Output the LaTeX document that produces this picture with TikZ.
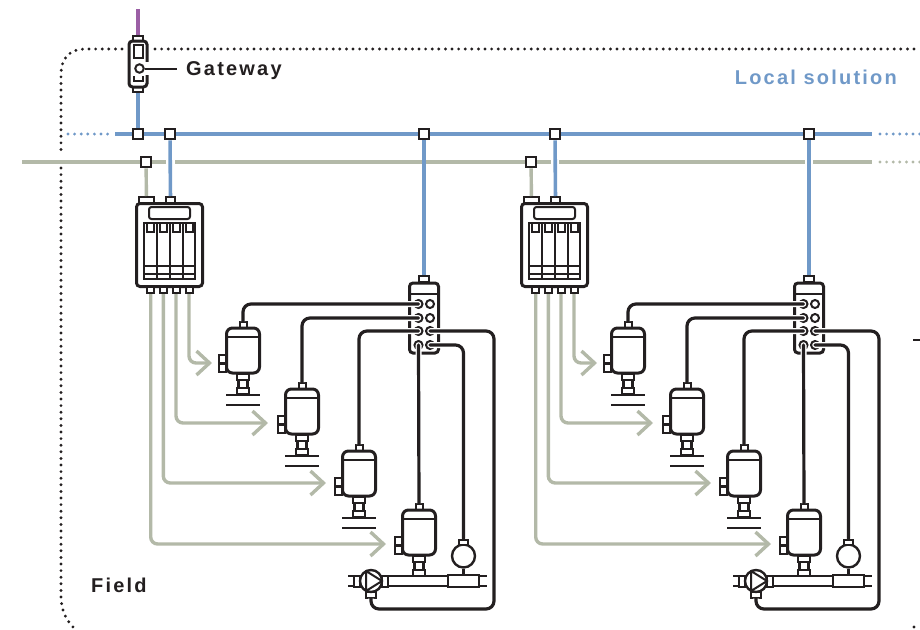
\documentclass[tikz,border=0pt]{standalone}
\usepackage{fontspec}
\setmainfont[LetterSpace=11]{Liberation Sans}
\usetikzlibrary{arrows.meta}
\definecolor{busblue}{RGB}{112,153,200}
\definecolor{busgray}{RGB}{179,185,168}
\definecolor{gatepurple}{RGB}{155,95,165}
\definecolor{ink}{RGB}{35,31,32}

\begin{document}
\begin{tikzpicture}[x=1pt,y=-1pt,>={Straight Barb[length=13pt,width=24pt]},
    bluebus/.style={busblue,line width=3.6pt},
    graybus/.style={busgray,line width=3.4pt},
    bluedots/.style={busblue,line width=3.2pt,line cap=round,dash pattern=on 0pt off 6.6pt},
    graydots/.style={busgray,line width=3.2pt,line cap=round,dash pattern=on 0pt off 6.6pt},
    fielddots/.style={ink,line width=3.2pt,line cap=round,dash pattern=on 0pt off 6.6pt},
    cable/.style={ink,line width=3.2pt,line cap=round,rounded corners=8pt,preaction={draw=white,line width=6pt}},
    thin line/.style={ink,line width=2pt},
    bx/.style={draw=ink,line width=3pt,fill=white,rounded corners=3.5pt,inner sep=0pt,minimum width=#1},
    bx/.default=10pt,
    cap/.style={draw=ink,line width=2pt,fill=white,inner sep=0pt,minimum width=#1,minimum height=6pt},
    cap/.default=9pt,
    junction/.style={draw=ink,line width=2.6pt,fill=white,inner sep=0pt,minimum size=10pt},
    port/.style={circle,draw=ink,line width=2pt,fill=white,inner sep=0pt,minimum size=8pt},
    lbl/.style={font=\bfseries\fontsize{20}{22}\selectfont,text=ink,inner sep=0pt},
    valve/.pic={
      \node[cap=7pt,minimum height=6pt] (-top) at (0,-3) {};
      \node[bx=33pt,minimum height=45pt,rounded corners=6pt] (-body) at (0,22.5) {};
      \draw[thin line] (-17,8.5) -- (17,8.5);
      \node[cap=7pt,minimum height=8pt] at (-20.5,30.5) {};
      \node[cap=7pt,minimum height=8pt] at (-20.5,39.5) {};
      \draw[ink,line width=2.6pt,fill=white] (-6,46) rectangle (6,52);
      \draw[ink,line width=2.6pt,fill=white] (-4.5,52) rectangle (4.5,60);
      \draw[ink,line width=2.6pt,fill=white] (-6,60) rectangle (6,66);
    },
    lines/.pic={
      \draw[thin line] (-17,66.5) -- (17,66.5) (-17,76.5) -- (17,76.5);
    }]
  \useasboundingbox (0,0) rectangle (920,629);
  % field border
  \draw[fielddots] (122,49) -- (85,49) .. controls (70,49) and (61,58) .. (61,74) -- (61,154);
  \draw[fielddots] (61,168) -- (61,596) .. controls (61,610) and (66,620) .. (74,628);
  \draw[fielddots] (155,49) -- (920,49);
  \draw[fielddots] (914,627) -- (919,624);
  \draw[ink,line width=1.8pt] (913,340) -- (920,340);
  % buses
  \draw[bluedots] (68,134) -- (108,134);
  \draw[bluebus] (115,134) -- (872,134);
  \draw[bluedots] (880,134) -- (920,134);
  \draw[graybus] (22,162) -- (166,162) (175,162) -- (551,162) (559,162) -- (805,162) (813,162) -- (872,162);
  \draw[graydots] (880,162) -- (920,162);
  % gateway
  \node[cap=10pt,minimum height=5pt] (gwin) at (138,38) {};
  \node[cap=10pt,minimum height=5pt] (gwout) at (138,89) {};
  \node[bx=18pt,minimum height=46pt] (gw) at (138,64) {};
  \fill[white] (145,62) rectangle (150,75);
  \draw[thin line] (133.5,45) rectangle (142.5,58) (133.5,76) -- (133.5,80.5) -- (142.5,80.5) -- (142.5,76);
  \coordinate (gwtop) at (138,9);
  \node[junction] (j0) at (138,134) {};
  \draw[gatepurple,line width=3.4pt] (gwtop) -- (gwin);
  \draw[bluebus] (gwout) -- (j0);
  \node[lbl,anchor=base west] (gwlabel) at (186,75) {Gateway};
  \node[port,minimum size=8.5pt] (gwport) at (139.5,68.5) {};
  \draw[thin line] (gwport) -- (177,68.5);
  \node[lbl,text=busblue,anchor=base east] (local) at (897,84) {Local solution};
  \node[lbl,anchor=base west] (field) at (91,592) {Field};
  % two identical field groups
  \foreach \g/\dx in {a/0,b/385} {
    \begin{scope}[xshift=\dx pt]
      \node[junction] (\g-jb) at (170,134) {};
      \node[junction] (\g-jg) at (146,162) {};
      \node[junction] (\g-jio) at (424,134) {};
      % remote i/o cabinet
      \node[cap=15pt] (\g-capg) at (146.5,200) {};
      \node[cap=9pt] (\g-capb) at (170.5,200) {};
      \node[bx=66pt,minimum height=83pt] (\g-rio) at (169.5,245) {};
      \node[draw=ink,line width=2pt,rounded corners=2.5pt,minimum width=41pt,minimum height=12pt,inner sep=0pt] (\g-disp) at (169.5,213) {};
      \draw[thin line] (144,223) rectangle (195,279);
      \foreach \x in {157,169.5,182.5} \draw[thin line] (\x,223) -- (\x,279);
      \draw[thin line] (144,265.5) -- (195,265.5) (144,274) -- (195,274);
      \foreach \x in {150.7,163.3,176,189} \draw[thin line] (\x-3.5,223) -- (\x-3.5,232) -- (\x+3.5,232) -- (\x+3.5,223);
      \foreach \i/\x in {1/189,2/176,3/163.3,4/150.7} \node[cap=7pt] (\g-out\i) at (\x,290) {};
      \draw[graybus] (\g-jg) -- (\g-capg);
      \draw[bluebus] (\g-jb) -- (\g-capb);
      % io block
      \node[cap=10pt] (\g-capio) at (424,279) {};
      \node[bx=29pt,minimum height=70pt] (\g-io) at (424,318) {};
      \draw[thin line] (409,294) -- (439,294);
      \draw[bluebus] (\g-jio) -- (\g-capio);
      \foreach \i/\y in {1/304,2/318,3/331,4/345} {
        \node[port] (\g-l\i) at (418.5,\y) {};
        \node[port] (\g-r\i) at (430,\y) {};
      }
      % valves
      \pic (\g-v1) at (243,328) {valve};
      \pic (\g-v2) at (302,389) {valve};
      \pic (\g-v3) at (359,451) {valve};
      \pic (\g-v4) at (419,510) {valve};
      \pic at (243,328) {lines};
      \pic at (302,389) {lines};
      \pic at (359,451) {lines};
      % pipe
      \draw[thin line] (388,576) -- (448,576) (388,586) -- (448,586);
      \draw[thin line] (479,576) -- (487,576) (479,586) -- (487,586);
      \draw[thin line] (348,576) -- (354,576) (348,586) -- (354,586);
      \node[draw=ink,line width=2.6pt,fill=white,minimum width=31pt,minimum height=12pt,inner sep=0pt] (\g-meter) at (463.5,581) {};
      \node[circle,draw=ink,line width=2.4pt,fill=white,minimum size=23pt,inner sep=0pt] (\g-sensor) at (463.5,556) {};
      \node[cap=9pt,minimum height=5pt] (\g-stop) at (463.5,542) {};
      \draw[ink,line width=2.4pt] (\g-sensor) -- (\g-meter);
      \node[cap=6pt,minimum height=11pt] at (357,581.5) {};
      \node[cap=6pt,minimum height=11pt] at (385,581.5) {};
      \node[cap=10pt] (\g-pbot) at (371,594.5) {};
      \node[circle,draw=ink,line width=2.4pt,fill=white,minimum size=22pt,inner sep=0pt] (\g-pump) at (371,581) {};
      \draw[thin line,line join=round] (366,571) -- (382,581) -- (366,591) -- cycle;
      % gray supply lines
      \coordinate (\g-t1) at (212,363);
      \coordinate (\g-t2) at (268,423);
      \coordinate (\g-t3) at (326,483);
      \coordinate (\g-t4) at (386,544);
      \foreach \i in {1,2,3,4}
        \draw[graybus,->,rounded corners=7pt] (\g-out\i) |- (\g-t\i);
      % black cables
      \draw[cable] (\g-l1.center) -| (\g-v1-top);
      \draw[cable] (\g-l2.center) -| (\g-v2-top);
      \draw[cable] (\g-l3.center) -| (\g-v3-top);
      \draw[cable] (\g-l4.center) -- (\g-v4-top);
      \draw[cable] (\g-r4.center) -| (\g-stop);
      \coordinate (\g-rr) at (494,609);
      \draw[cable] (\g-r3.center) -| (\g-rr) -| (\g-pbot);
    \end{scope}
  }
\end{tikzpicture}
\end{document}
